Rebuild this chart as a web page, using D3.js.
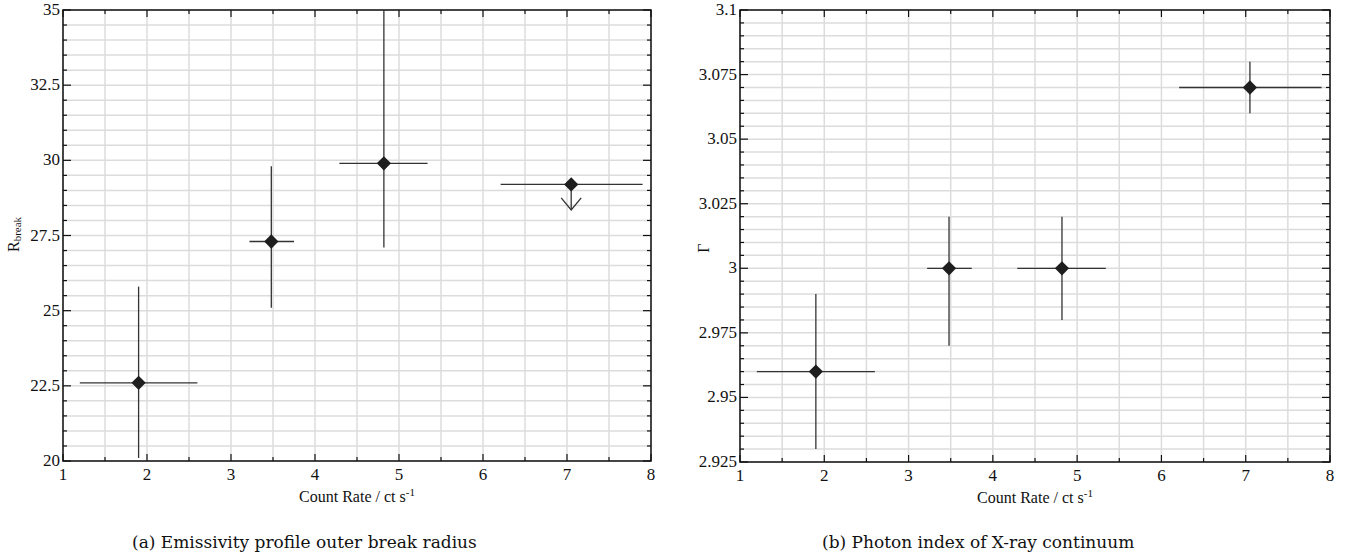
<!DOCTYPE html>
<html>
<head>
<meta charset="utf-8">
<script src="https://cdn.jsdelivr.net/npm/d3@7"></script>
<style>
  body { margin: 0; background: #fff; }
</style>
</head>
<body>
<svg id="chart" width="1349" height="555"></svg>
<script>
// data
var countRate   = [1.9, 3.48, 4.82, 7.05];
var countRateLo = [1.2, 3.22, 4.29, 6.21];
var countRateHi = [2.6, 3.75, 5.34, 7.9];

var rBreak    = [22.6, 27.3, 29.9, 29.2];
var rBreakLo  = [20.1, 25.1, 27.1, 28.35];
var rBreakHi  = [25.8, 29.8, 35.5, 29.2];
var rBreakLim = [false, false, false, true];   // last point is an upper limit

var gamma   = [2.96, 3.0, 3.0, 3.07];
var gammaLo = [2.93, 2.97, 2.98, 3.06];
var gammaHi = [2.99, 3.02, 3.02, 3.08];

var xTicks = [1, 2, 3, 4, 5, 6, 7, 8];
var rTicks = [20, 22.5, 25, 27.5, 30, 32.5, 35];
var gTicks = [2.925, 2.95, 2.975, 3, 3.025, 3.05, 3.075, 3.1];

var FONT = "'Liberation Serif', 'Times New Roman', serif";
var CAPFONT = "'DejaVu Serif', serif";

var svg = d3.select("#chart");

function Panel(o) {
    var x = d3.scaleLinear().domain([1, 8]).range([o.left, o.right]);
    var y = d3.scaleLinear().domain(o.yDomain).range([o.bottom, o.top]);
    var g = svg.append("g");

    var clipId = "clip" + o.id;
    g.append("clipPath").attr("id", clipId).append("rect")
        .attr("x", o.left).attr("y", o.top)
        .attr("width", o.right - o.left).attr("height", o.bottom - o.top);

    // minor grid: x every 0.5, y every fifth of a major step
    var xMinor = d3.range(1, 8.001, 0.5);
    var yStep = (o.yTicks[1] - o.yTicks[0]) / 5;
    var yMinor = d3.range(0, Math.round((o.yDomain[1] - o.yDomain[0]) / yStep) + 1)
        .map(function (i) { return o.yDomain[0] + i * yStep; });

    g.selectAll(".gx").data(xMinor).enter().append("line")
        .attr("x1", x).attr("x2", x).attr("y1", o.top).attr("y2", o.bottom)
        .style("stroke", "#dcdcdc").style("stroke-width", 1.5);
    g.selectAll(".gy").data(yMinor).enter().append("line")
        .attr("y1", y).attr("y2", y).attr("x1", o.left).attr("x2", o.right)
        .style("stroke", "#dcdcdc").style("stroke-width", 1.5);

    // ticks on all four sides, pointing in
    function isMajorX(v) { return Math.abs(v - Math.round(v)) < 1e-6; }
    function isMajorY(v) {
        return o.yTicks.some(function (t) { return Math.abs(t - v) < 1e-9; });
    }
    g.selectAll(".tb").data(xMinor).enter().append("line")
        .attr("x1", x).attr("x2", x).attr("y1", o.bottom)
        .attr("y2", function (d) { return o.bottom - (isMajorX(d) ? 7 : 4); })
        .style("stroke", "#111").style("stroke-width", 1.2);
    g.selectAll(".tt").data(xMinor).enter().append("line")
        .attr("x1", x).attr("x2", x).attr("y1", o.top)
        .attr("y2", function (d) { return o.top + (isMajorX(d) ? 7 : 4); })
        .style("stroke", "#111").style("stroke-width", 1.2);
    g.selectAll(".tl").data(yMinor).enter().append("line")
        .attr("y1", y).attr("y2", y).attr("x1", o.left)
        .attr("x2", function (d) { return o.left + (isMajorY(d) ? 8 : 4); })
        .style("stroke", "#111").style("stroke-width", 1.2);
    g.selectAll(".tr").data(yMinor).enter().append("line")
        .attr("y1", y).attr("y2", y).attr("x1", o.right)
        .attr("x2", function (d) { return o.right - (isMajorY(d) ? 8 : 4); })
        .style("stroke", "#111").style("stroke-width", 1.2);

    // frame
    g.append("rect")
        .attr("x", o.left).attr("y", o.top)
        .attr("width", o.right - o.left).attr("height", o.bottom - o.top)
        .style("fill", "none").style("stroke", "#111").style("stroke-width", 1.5);

    // tick labels
    g.selectAll(".lx").data(xTicks).enter().append("text")
        .attr("x", x).attr("y", o.bottom + 19)
        .attr("text-anchor", "middle")
        .style("font-family", FONT).style("font-size", "17px").style("fill", "#111")
        .text(function (d) { return d; });
    g.selectAll(".ly").data(o.yTicks).enter().append("text")
        .attr("x", o.left - 3).attr("y", function (d) { return y(d) + 5; })
        .attr("text-anchor", "end")
        .style("font-family", FONT).style("font-size", "17px").style("fill", "#111")
        .text(function (d) { return d; });

    // x label
    var xl = g.append("text")
        .attr("x", (o.left + o.right) / 2).attr("y", o.bottom + 41)
        .attr("text-anchor", "middle")
        .style("font-family", FONT).style("font-size", "16px").style("fill", "#111");
    xl.append("tspan").text("Count Rate / ct s");
    xl.append("tspan").attr("dy", -6).style("font-size", "11px").text("-1");

    // y label
    var yl = g.append("text")
        .attr("transform", "translate(" + o.yLabelX + "," + o.yLabelY + ") rotate(-90)")
        .attr("text-anchor", o.yLabelAnchor)
        .style("font-family", FONT).style("font-size", "16px").style("fill", "#111");
    yl.append("tspan").text(o.yLabel);
    if (o.yLabelSub) {
        yl.append("tspan").attr("dy", 2).style("font-size", "11px").text(o.yLabelSub);
    }

    // caption (sits under the sub-figure, a little left of the plot centre)
    g.append("text")
        .attr("x", o.captionX).attr("y", 548)
        .attr("text-anchor", "start")
        .style("font-family", CAPFONT).style("font-size", "17px").style("fill", "#111")
        .text(o.caption);

    // error bars and points
    var pts = g.append("g").attr("clip-path", "url(#" + clipId + ")");
    var idx = d3.range(countRate.length);
    pts.selectAll(".ex").data(idx).enter().append("line")
        .attr("x1", function (i) { return x(countRateLo[i]); })
        .attr("x2", function (i) { return x(countRateHi[i]); })
        .attr("y1", function (i) { return y(o.val[i]); })
        .attr("y2", function (i) { return y(o.val[i]); })
        .style("stroke", "#333").style("stroke-width", 1.3);
    pts.selectAll(".ey").data(idx).enter().append("line")
        .attr("x1", function (i) { return x(countRate[i]); })
        .attr("x2", function (i) { return x(countRate[i]); })
        .attr("y1", function (i) { return y(o.lo[i]); })
        .attr("y2", function (i) { return y(o.hi[i]); })
        .style("stroke", "#333").style("stroke-width", 1.3);

    if (o.lim) {
        idx.filter(function (i) { return o.lim[i]; }).forEach(function (i) {
            var tx = x(countRate[i]), ty = y(o.lo[i]);
            pts.append("path")
                .attr("d", "M" + (tx - 10) + "," + (ty - 12) + "L" + tx + "," + ty +
                           "L" + (tx + 10) + "," + (ty - 12))
                .style("fill", "none").style("stroke", "#333").style("stroke-width", 1.3);
        });
    }

    pts.selectAll(".pt").data(idx).enter().append("path")
        .attr("d", d3.symbol().type(d3.symbolDiamond2).size(130))
        .attr("transform", function (i) {
            return "translate(" + x(countRate[i]) + "," + y(o.val[i]) + ")";
        })
        .style("fill", "#1e1e1e");
}

Panel({
    id: "a", left: 63, right: 651, top: 10, bottom: 461,
    yDomain: [20, 35], yTicks: rTicks,
    val: rBreak, lo: rBreakLo, hi: rBreakHi, lim: rBreakLim,
    yLabel: "R", yLabelSub: "break", yLabelX: 19, yLabelY: 252, yLabelAnchor: "start",
    caption: "(a) Emissivity profile outer break radius", captionX: 132
});

Panel({
    id: "b", left: 740, right: 1330, top: 10, bottom: 462,
    yDomain: [2.925, 3.1], yTicks: gTicks,
    val: gamma, lo: gammaLo, hi: gammaHi, lim: null,
    yLabel: "Γ", yLabelSub: null, yLabelX: 709, yLabelY: 248, yLabelAnchor: "middle",
    caption: "(b) Photon index of X-ray continuum", captionX: 822
});
</script>
</body>
</html>
